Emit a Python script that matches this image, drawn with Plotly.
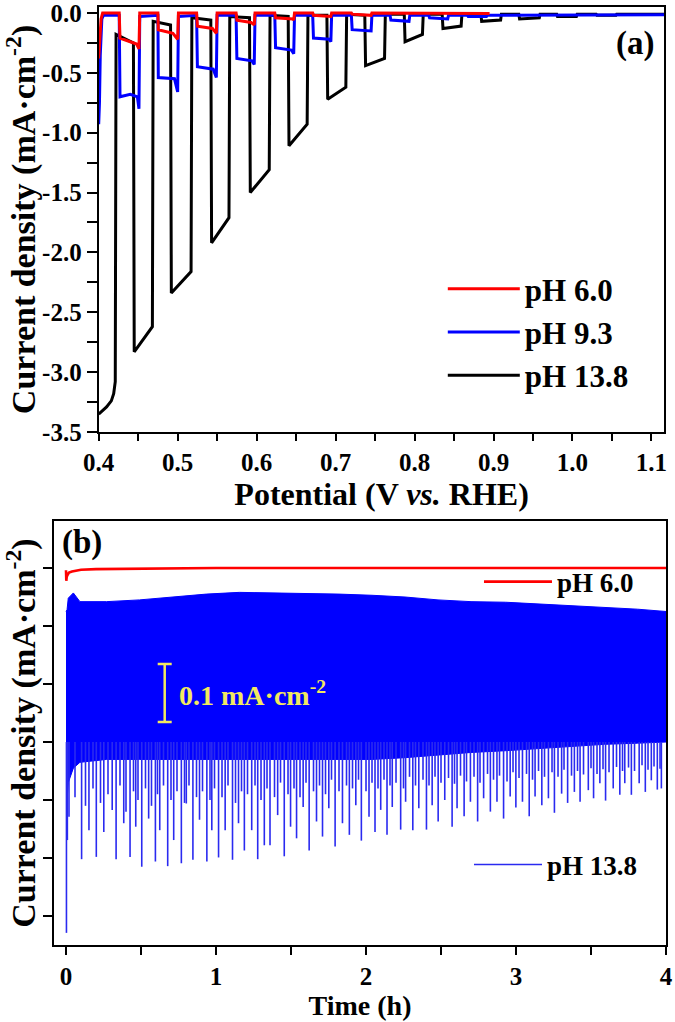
import plotly.graph_objects as go

# ---- (a) chopped LSV, potential (V vs RHE) / current density (mA cm-2)
v_ph138 = [0.400, 0.403, 0.410, 0.416, 0.419, 0.421, 0.422, 0.444, 0.445, 0.468, 0.469, 0.491,
           0.492, 0.517, 0.518, 0.542, 0.543, 0.565, 0.566, 0.591, 0.592, 0.616, 0.617, 0.640,
           0.641, 0.664, 0.665, 0.689, 0.690, 0.713, 0.714, 0.737, 0.738, 0.762, 0.763, 0.787,
           0.788, 0.810, 0.811, 0.835, 0.836, 0.859, 0.860, 0.884, 0.885, 0.909, 0.910, 0.932,
           0.933, 0.958, 0.959, 0.980, 0.981, 1.005, 1.006, 1.030, 1.031, 1.055, 1.056, 1.120]
j_ph138 = [-3.35, -3.33, -3.29, -3.24, -3.18, -3.08, -0.18, -0.25, -2.83, -2.62, -0.07, -0.10,
           -2.34, -2.16, -0.04, -0.06, -1.92, -1.71, -0.03, -0.04, -1.50, -1.31, -0.02, -0.03,
           -1.11, -0.93, -0.02, -0.02, -0.72, -0.62, -0.01, -0.02, -0.44, -0.38, -0.01, -0.01,
           -0.24, -0.18, -0.01, -0.01, -0.13, -0.11, -0.01, -0.01, -0.07, -0.06, -0.01, -0.01,
           -0.05, -0.04, -0.01, -0.01, -0.03, -0.03, -0.01, -0.01, -0.02, -0.02, -0.01, -0.01]

v_ph93 = [0.400, 0.401, 0.402, 0.404, 0.406, 0.426, 0.427, 0.440, 0.449, 0.451, 0.452, 0.475,
          0.4755, 0.496, 0.500, 0.501, 0.524, 0.525, 0.545, 0.549, 0.550, 0.574, 0.575, 0.594,
          0.597, 0.598, 0.623, 0.624, 0.644, 0.647, 0.648, 0.671, 0.672, 0.692, 0.694, 0.695,
          0.720, 0.721, 0.745, 0.746, 0.769, 0.770, 0.793, 0.794, 0.818, 0.819, 0.842, 0.843,
          0.867, 0.868, 0.891, 0.892, 1.120]
j_ph93 = [-0.93, -0.75, -0.35, -0.05, -0.02, -0.02, -0.70, -0.68, -0.70, -0.80, -0.03, -0.02,
          -0.54, -0.55, -0.66, -0.03, -0.02, -0.45, -0.47, -0.54, -0.02, -0.02, -0.38, -0.40,
          -0.43, -0.02, -0.02, -0.29, -0.31, -0.34, -0.02, -0.02, -0.21, -0.22, -0.24, -0.02,
          -0.02, -0.14, -0.15, -0.02, -0.02, -0.06, -0.07, -0.02, -0.02, -0.04, -0.05, -0.02,
          -0.02, -0.03, -0.03, -0.02, -0.015]

v_ph60 = [0.400, 0.401, 0.403, 0.405, 0.426, 0.427, 0.440, 0.448, 0.451, 0.452, 0.475, 0.4755,
          0.494, 0.500, 0.501, 0.524, 0.525, 0.544, 0.549, 0.550, 0.574, 0.575, 0.593, 0.597,
          0.598, 0.623, 0.624, 0.646, 0.647, 0.648, 0.671, 0.672, 0.694, 0.695, 0.720, 0.721,
          0.745, 0.746, 0.895]
j_ph60 = [-0.38, -0.25, -0.05, 0.0, 0.0, -0.21, -0.24, -0.26, -0.30, 0.0, 0.0, -0.14,
          -0.17, -0.22, 0.0, 0.0, -0.11, -0.13, -0.17, 0.0, 0.0, -0.06, -0.08, -0.10,
          0.0, 0.0, -0.04, -0.05, -0.06, 0.0, 0.0, -0.02, -0.03, 0.0, 0.0, -0.01,
          -0.02, 0.0, -0.005]

# ---- (b) chopped chronoamperometry, time (h)
t_env = [0.0, 0.007, 0.015, 0.049, 0.093, 0.27, 0.49, 0.71, 0.935, 1.156, 1.38, 1.60,
         1.82, 2.04, 2.26, 2.48, 2.70, 2.93, 3.15, 3.37, 3.59, 3.81, 4.0]
j_env_top = [-0.075, -0.072, -0.052, -0.043, -0.058, -0.058, -0.055, -0.050, -0.045, -0.042,
             -0.043, -0.043, -0.045, -0.047, -0.050, -0.055, -0.058, -0.059, -0.062, -0.064,
             -0.067, -0.071, -0.075]
j_env_low = [-0.40, -0.40, -0.37, -0.345, -0.335, -0.330, -0.330, -0.330, -0.330, -0.330,
             -0.330, -0.330, -0.330, -0.330, -0.327, -0.322, -0.318, -0.315, -0.311, -0.307,
             -0.304, -0.302, -0.300]

deep_t = [0.003, 0.009, 0.104, 0.202, 0.334, 0.427, 0.505, 0.596, 0.678, 0.769, 0.846, 0.939,
          1.017, 1.110, 1.189, 1.278, 1.360, 1.455, 1.537, 1.621, 1.710, 1.794, 1.889, 1.969,
          2.060, 2.140, 2.231, 2.312, 2.403, 2.481, 2.574, 2.654, 2.744, 2.829, 2.917, 2.999,
          3.088, 3.172, 3.256, 3.344, 3.427, 3.517, 3.597, 3.692, 3.769, 3.862, 3.942]
deep_j = [-0.629, -0.469, -0.502, -0.498, -0.502, -0.498, -0.515, -0.506, -0.514, -0.509, -0.503, -0.506,
          -0.499, -0.503, -0.487, -0.502, -0.478, -0.497, -0.466, -0.487, -0.463, -0.480, -0.460, -0.470,
          -0.455, -0.460, -0.451, -0.452, -0.451, -0.437, -0.446, -0.428, -0.437, -0.420, -0.432, -0.413,
          -0.428, -0.409, -0.422, -0.405, -0.403, -0.397, -0.401, -0.391, -0.391, -0.386, -0.382]
mid_t = [0.020, 0.153, 0.252, 0.308, 0.385, 0.465, 0.551, 0.625, 0.718, 0.802, 0.890, 0.972,
         1.061, 1.150, 1.238, 1.322, 1.411, 1.497, 1.581, 1.670, 1.752, 1.843, 1.932, 2.020,
         2.098, 2.175, 2.264, 2.352, 2.441, 2.525, 2.607, 2.696, 2.784, 2.873, 2.961, 3.043,
         3.127, 3.216, 3.304, 3.389, 3.482, 3.559, 3.648, 3.725, 3.821, 3.902, 3.969]
mid_j = [-0.429, -0.452, -0.455, -0.417, -0.440, -0.446, -0.432, -0.452, -0.469, -0.406, -0.434, -0.452,
         -0.452, -0.440, -0.452, -0.478, -0.426, -0.446, -0.412, -0.437, -0.414, -0.440, -0.409, -0.429,
         -0.417, -0.412, -0.403, -0.414, -0.409, -0.400, -0.414, -0.403, -0.397, -0.403, -0.394, -0.403,
         -0.394, -0.397, -0.389, -0.386, -0.383, -0.371, -0.380, -0.371, -0.371, -0.366, -0.380]
short_t = [0.06, 0.13, 0.18, 0.23, 0.28, 0.36, 0.40, 0.45, 0.48, 0.53, 0.57, 0.61, 0.65, 0.70, 0.74,
           0.79, 0.82, 0.87, 0.91, 0.96, 0.99, 1.04, 1.08, 1.13, 1.17, 1.21, 1.26, 1.30, 1.34, 1.39,
           1.43, 1.48, 1.52, 1.56, 1.60, 1.65, 1.69, 1.73, 1.77, 1.82, 1.87, 1.91, 1.95, 2.00, 2.04,
           2.08, 2.12, 2.16, 2.20, 2.25, 2.29, 2.33, 2.38, 2.42, 2.46, 2.50, 2.55, 2.59, 2.63, 2.67,
           2.72, 2.76, 2.81, 2.85, 2.89, 2.94, 2.98, 3.02, 3.07, 3.11, 3.15, 3.19, 3.24, 3.28, 3.32,
           3.37, 3.41, 3.45, 3.50, 3.54, 3.58, 3.62, 3.67, 3.71, 3.75, 3.79, 3.84, 3.88, 3.92, 3.96]
short_j = [-0.395, -0.410, -0.380, -0.405, -0.390, -0.375, -0.420, -0.385, -0.400, -0.380, -0.410, -0.390,
           -0.375, -0.400, -0.385, -0.405, -0.375, -0.395, -0.385, -0.400, -0.380, -0.395, -0.375, -0.405,
           -0.385, -0.390, -0.375, -0.400, -0.380, -0.395, -0.370, -0.390, -0.380, -0.395, -0.370, -0.385,
           -0.375, -0.390, -0.365, -0.385, -0.375, -0.380, -0.365, -0.385, -0.370, -0.380, -0.365, -0.375,
           -0.370, -0.380, -0.360, -0.375, -0.365, -0.375, -0.360, -0.370, -0.362, -0.372, -0.358, -0.368,
           -0.360, -0.370, -0.355, -0.365, -0.358, -0.368, -0.352, -0.362, -0.355, -0.365, -0.350, -0.360,
           -0.352, -0.360, -0.348, -0.358, -0.350, -0.356, -0.345, -0.355, -0.347, -0.352, -0.343, -0.350,
           -0.344, -0.350, -0.340, -0.348, -0.342, -0.346]
spike_top = -0.30  # spikes start inside the dense band

t_red = [0.0, 0.002, 0.005, 0.01, 0.02, 0.04, 0.07, 0.1, 0.2, 0.5, 1.0, 2.0, 3.0, 4.0]
j_red = [-0.004, -0.022, -0.015, -0.012, -0.008, -0.006, -0.004, -0.003, -0.002, -0.001, 0.0, 0.0, 0.0, 0.0]

scalebar_t = [0.658]
scalebar_j = [-0.2155]
scalebar_len = 0.1

FONT = "Liberation Serif, Times New Roman, Times, serif"
BLUE = "#0000ff"

fig = go.Figure()

# top panel
fig.add_trace(go.Scatter(x=v_ph138, y=j_ph138, mode="lines", name="pH 13.8",
                         line=dict(color="black", width=3), xaxis="x", yaxis="y"))
fig.add_trace(go.Scatter(x=v_ph93, y=j_ph93, mode="lines", name="pH 9.3",
                         line=dict(color=BLUE, width=3), xaxis="x", yaxis="y"))
fig.add_trace(go.Scatter(x=v_ph60, y=j_ph60, mode="lines", name="pH 6.0",
                         line=dict(color="#ff0000", width=3), xaxis="x", yaxis="y"))

# bottom panel: dense band of the chopped signal
fig.add_trace(go.Scatter(x=t_env, y=j_env_low, mode="lines", line=dict(color=BLUE, width=1),
                         showlegend=False, xaxis="x2", yaxis="y2", hoverinfo="skip"))
fig.add_trace(go.Scatter(x=t_env, y=j_env_top, mode="lines", line=dict(color=BLUE, width=1),
                         fill="tonexty", fillcolor=BLUE, showlegend=False,
                         xaxis="x2", yaxis="y2", hoverinfo="skip"))

sx, sy = [], []
for t, j in list(zip(deep_t, deep_j)) + list(zip(mid_t, mid_j)) + list(zip(short_t, short_j)):
    sx += [t, t, None]
    sy += [spike_top, j, None]
fig.add_trace(go.Scatter(x=sx, y=sy, mode="lines", name="pH 13.8",
                         line=dict(color="#2a2af0", width=1.6), xaxis="x2", yaxis="y2",
                         legend="legend3"))

fig.add_trace(go.Scatter(x=t_red, y=j_red, mode="lines", name="pH 6.0",
                         line=dict(color="#ff0000", width=2.6), xaxis="x2", yaxis="y2",
                         legend="legend2"))

# 0.1 mA cm-2 scale bar
fig.add_trace(go.Scatter(x=scalebar_t, y=scalebar_j, mode="markers", marker=dict(size=0.1, color="#f2e860"),
                         error_y=dict(type="constant", value=scalebar_len / 2, color="#f2e860",
                                      thickness=2.5, width=7),
                         showlegend=False, xaxis="x2", yaxis="y2", hoverinfo="skip"))

axis_common = dict(showline=True, linecolor="black", linewidth=2, mirror=True, automargin=False,
                   ticks="outside", tickcolor="black", tickwidth=2, showgrid=False, zeroline=False,
                   ticklabeloverflow="allow",
                   tickfont=dict(family=FONT, size=25, color="black", weight="bold"))

fig.update_layout(
    width=675, height=1022,
    margin=dict(l=0, r=0, t=0, b=0),
    paper_bgcolor="white", plot_bgcolor="white",
    font=dict(family=FONT, color="black", weight="bold"),
    xaxis=dict(domain=[0.1462, 0.9844], range=[0.4, 1.1165], tickvals=[0.4, 0.5, 0.6, 0.7, 0.8, 0.9, 1.0, 1.1],
               ticktext=["0.4", "0.5", "0.6", "0.7", "0.8", "0.9", "1.0", "1.1"], ticklen=7,
               minor=dict(dtick=0.05, tick0=0.4, ticks="outside", ticklen=7, tickwidth=2, tickcolor="black"),
               title=dict(text="Potential (V <i>vs.</i> RHE)", font=dict(family=FONT, size=32, weight="bold"),
                          standoff=2),
               anchor="y", **axis_common),
    yaxis=dict(domain=[0.5773, 0.9932], range=[-3.5, 0.05], tickvals=[0, -0.5, -1, -1.5, -2, -2.5, -3, -3.5],
               ticktext=["0.0", "-0.5", "-1.0", "-1.5", "-2.0", "-2.5", "-3.0", "-3.5"], ticklen=10,
               minor=dict(dtick=0.25, tick0=0, ticks="outside", ticklen=10, tickwidth=2, tickcolor="black"),
               title=dict(text="Current density (mA·cm<sup>-2</sup>)",
                          font=dict(family=FONT, size=34, weight="bold"), standoff=2),
               anchor="x", **axis_common),
    xaxis2=dict(domain=[0.08, 0.9867], range=[-0.08, 4.0], tickvals=[0, 1, 2, 3, 4], ticklen=8,
                minor=dict(tickvals=[0.5, 1.5, 2.5, 3.5], ticks="outside", ticklen=8, tickwidth=2, tickcolor="black"),
                title=dict(text="Time (h)", font=dict(family=FONT, size=28, weight="bold"), standoff=4),
                anchor="y2", **axis_common),
    yaxis2=dict(domain=[0.0753, 0.4902], range=[-0.65, 0.081],
                tickvals=[0, -0.1, -0.2, -0.3, -0.4, -0.5, -0.6], showticklabels=False, ticklen=9,
                title=dict(text="Current density (mA·cm<sup>-2</sup>)",
                           font=dict(family=FONT, size=34, weight="bold"), standoff=6),
                anchor="x2", **axis_common),
    legend=dict(x=0.656, y=0.6751, xanchor="left", yanchor="middle", traceorder="reversed",
                bgcolor="rgba(0,0,0,0)", itemwidth=72,
                font=dict(family=FONT, size=31, color="black", weight="bold")),
    legend2=dict(x=0.7096, y=0.4305, xanchor="left", yanchor="middle", bgcolor="rgba(0,0,0,0)",
                 itemwidth=68, font=dict(family=FONT, size=27, color="black", weight="bold")),
    legend3=dict(x=0.6948, y=0.1536, xanchor="left", yanchor="middle", bgcolor="rgba(0,0,0,0)",
                 itemwidth=68, font=dict(family=FONT, size=27, color="black", weight="bold")),
    annotations=[
        dict(text="(a)", xref="x domain", yref="y domain", x=0.985, y=0.913, xanchor="right", yanchor="middle",
             showarrow=False, font=dict(family=FONT, size=33, color="black", weight="bold")),
        dict(text="(b)", xref="x2 domain", yref="y2 domain", x=0.01, y=0.95, xanchor="left", yanchor="middle",
             showarrow=False, font=dict(family=FONT, size=33, color="black", weight="bold")),
        dict(text="0.1 mA·cm<sup>-2</sup>", xref="x2", yref="y2", x=0.74, y=-0.2155, xanchor="left",
             yanchor="middle", showarrow=False, font=dict(family=FONT, size=28, color="#f2e860", weight="bold")),
    ],
)

# drop the page's default body margin so the figure fills the window exactly
fig.write_html("out.html", config={"displayModeBar": False},
               post_script="document.body.style.margin='0';")
